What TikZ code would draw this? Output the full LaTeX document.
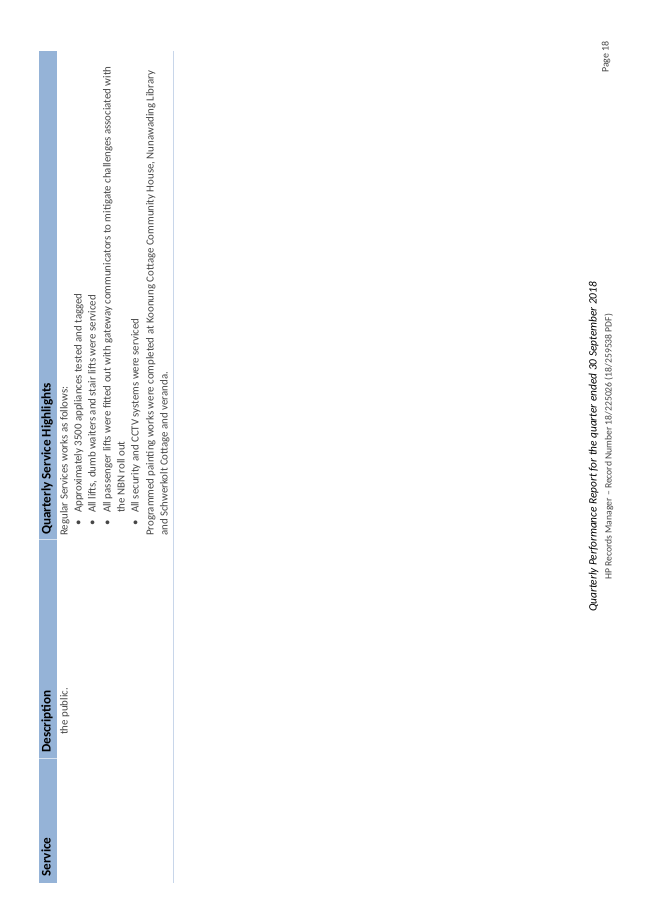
\documentclass[tikz,border=0pt]{standalone}
\usepackage{fontspec}
\setmainfont{Carlito}
\usepackage{tikz}
\usetikzlibrary{positioning, calc}

\definecolor{headblue}{RGB}{149,179,215}
\definecolor{ruleblue}{RGB}{200,214,234}
\definecolor{bodygrey}{RGB}{70,70,70}

\begin{document}
\begin{tikzpicture}[>=stealth, x=0.9117pt, y=-0.9117pt,
        vtext/.style={rotate=90, anchor=mid west, inner sep=0pt, text=bodygrey,
            font=\fontsize{9.9}{12}\selectfont},
        vhead/.style={vtext, text=black, font=\fontsize{12}{14}\selectfont\bfseries}]

        %\draw[help lines, step=50] (0, 0) grid (653, 923);
        \useasboundingbox[fill=white] (0, 0) rectangle (653, 923);

        % table header and frame
        \fill[headblue] (39, 51) rectangle (57, 883);
        \draw[white!60!headblue] (39, 539) -- (57, 539);
        \draw[white!60!headblue] (39, 758) -- (57, 758);
        \draw[ruleblue] (173, 51) -- (173, 883);

        \node[vhead] (service) at (48, 877) {Service};
        \node[vhead] (descr) at (48, 753) {Description};
        \node[vhead] (highl) at (48, 535) {Quarterly Service Highlights};

        % body
        \node[vtext] (public) at (65, 735) {the public.};
        \node[vtext] (regular) at (65, 536) {Regular Services works as follows:};

        \foreach \xb in {79, 93, 108, 136}
            \node[vtext] at (\xb, 526) {•};

        \node[vtext] (tagged) at (79, 513) {Approximately 3500 appliances tested and tagged};
        \node[vtext] (lifts) at (93, 513) {All lifts, dumb waiters and stair lifts were serviced};
        \node[vtext] (gateway) at (108, 513) {All passenger lifts were fitted out with gateway communicators to mitigate challenges associated with};
        \node[vtext] (nbn) at (122, 513) {the NBN roll out};
        \node[vtext] (cctv) at (136, 513) {All security and CCTV systems were serviced};
        \node[vtext] (painting) at (151, 536) {Programmed painting works were completed at Koonung Cottage Community House, Nunawading Library};
        \node[vtext] (cottage) at (165, 536) {and Schwerkolt Cottage and veranda.};

        % footer
        \node[vtext, text=black, font=\fontsize{10.3}{12}\selectfont\itshape] (title) at (594, 612)
            {Quarterly Performance Report for the quarter ended 30 September 2018};
        \node[vtext, font=\fontsize{8.8}{10}\selectfont] (record) at (609, 580)
            {HP Records Manager -- Record Number 18/225026 (18/259538 PDF)};
        \node[vtext, font=\fontsize{9.1}{11}\selectfont] (page) at (606, 73) {Page 18};
      \end{tikzpicture}
\end{document}
